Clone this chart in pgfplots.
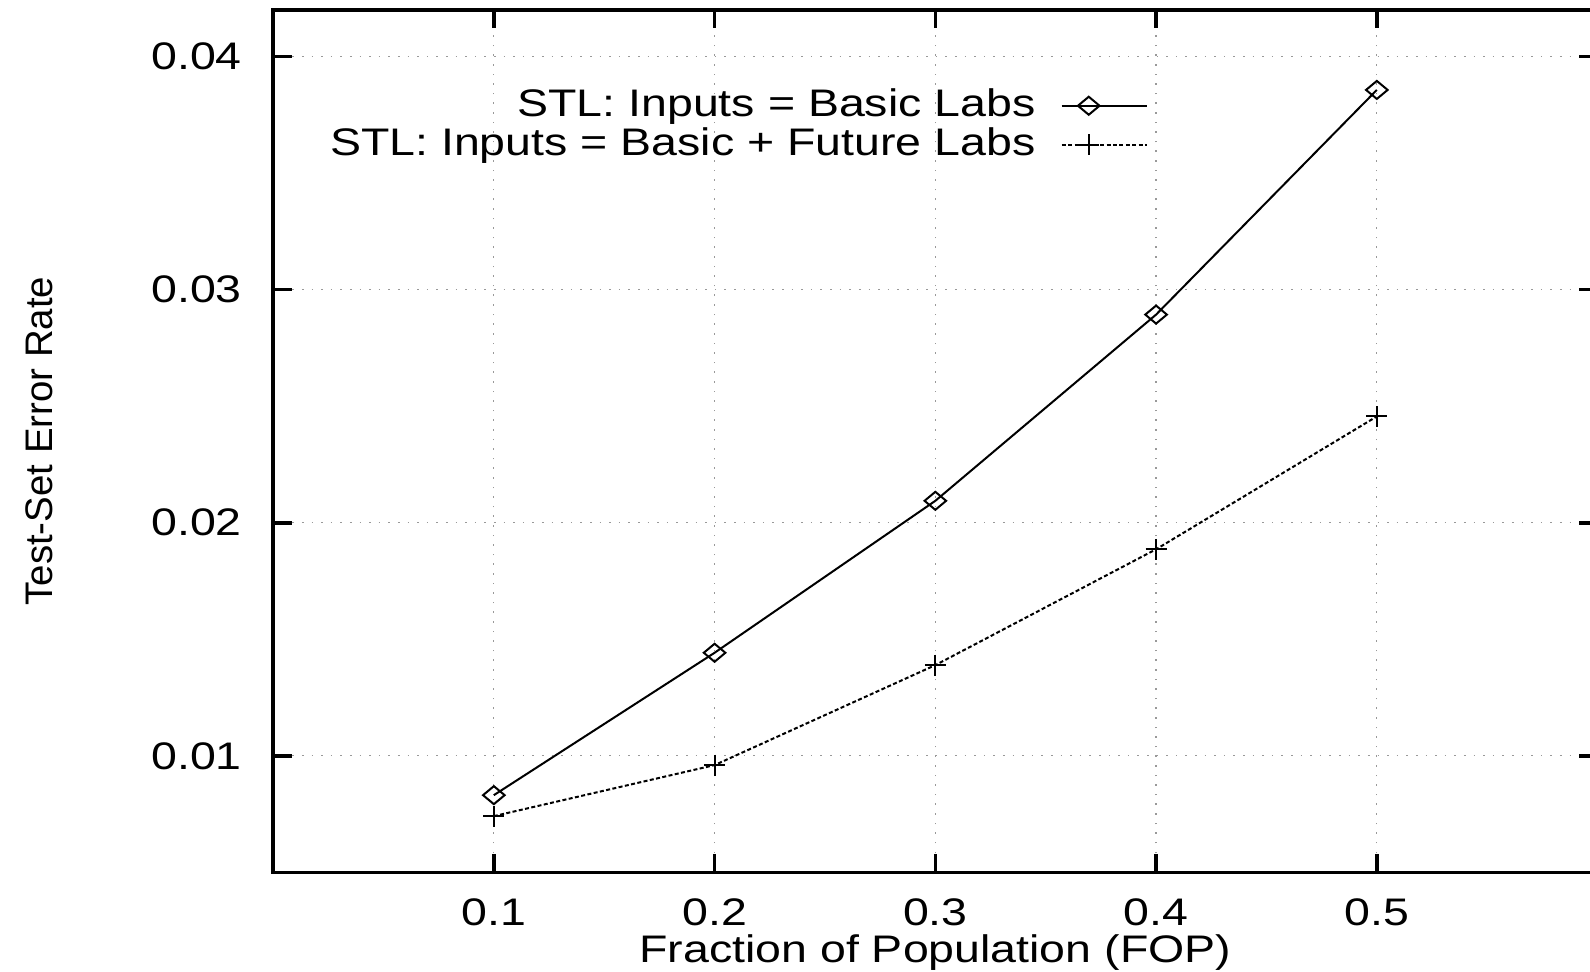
\documentclass[border=0pt]{standalone}
\usepackage{fontspec}
\setmainfont{Liberation Sans}[FakeStretch=1.21]
\newfontfamily\ylabfont{Liberation Sans}
\usepackage{pgfplots}
\pgfplotsset{compat=1.18}
\pgfplotstableread{
x y
0.1 0.00831
0.2 0.01442
0.3 0.02094
0.4 0.02893
0.5 0.03857
}\basic
\pgfplotstableread{
x y
0.1 0.00741
0.2 0.00960
0.3 0.01389
0.4 0.01886
0.5 0.02456
}\future
\begin{document}
\begin{tikzpicture}
\begin{axis}[
  name=ax, at={(0,0)}, anchor=south west,
  scale only axis, width=331pt, height=215.5pt,
  xmin=0, xmax=0.6, ymin=0.005, ymax=0.042,
  xtick={0.1,0.2,0.3,0.4,0.5}, xticklabels={0.1,0.2,0.3,0.4,0.5},
  ytick={0.01,0.02,0.03,0.04}, yticklabels={0.01,0.02,0.03,0.04},
  scaled ticks=false,
  font=\fontsize{9.6}{11.5}\selectfont,
  /pgf/number format/assume math mode=true,
  xticklabel style={yshift=-3pt},
  yticklabel style={xshift=-4.3pt},
  tick align=inside,
  major tick length=4.6pt,
  tick style={line width=0.9pt, black},
  axis line style={line width=0.9pt},
  grid=major,
  grid style={dotted, gray!80, line width=0.3pt},
  xlabel={Fraction of Population (FOP)},
  ylabel={\ylabfont Test-Set Error Rate},
  every axis x label/.style={at={(axis description cs:0.5,-0.1044)}, anchor=base},
  every axis y label/.style={at={(axis description cs:-0.1767,0.5)}, anchor=center, rotate=90},
  legend plot pos=right,
  legend cell align=right,
  legend style={draw=none, fill=none, at={(axis description cs:0.661,0.9095)}, anchor=north east,
    inner sep=0pt, row sep=1.3pt, column sep=6.3pt, nodes={inner sep=0pt},
    font=\fontsize{9.6}{11.5}\selectfont},
  legend image code/.code={\draw[mark repeat=2,mark phase=2,#1] plot coordinates {(0pt,0pt) (6.75pt,0pt) (21.25pt,0pt)};},
]
\addplot[black, line width=0.5pt, mark=diamond, mark size=2.25pt, mark options={solid, xscale=1.6, line width=0.5pt}] table {\basic};
\addlegendentry{STL: Inputs = Basic Labs}
\addplot[black, line width=0.5pt, dash pattern=on 1pt off 0.6pt, mark=+, mark size=2.6pt, mark options={solid, line width=0.5pt}] table {\future};
\addlegendentry{STL: Inputs = Basic + Future Labs}
\end{axis}
\pgfresetboundingbox
\path[use as bounding box] (-68.25pt,-24.75pt) rectangle (329.1pt,218pt);
\end{tikzpicture}
\end{document}
